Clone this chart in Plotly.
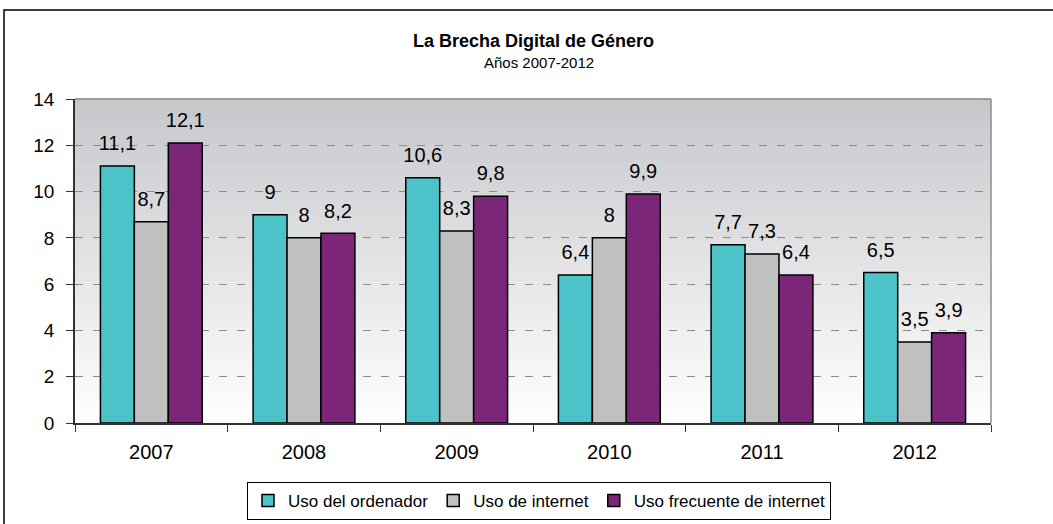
import plotly.graph_objects as go

years = ["2007", "2008", "2009", "2010", "2011", "2012"]
uso_ordenador = [11.1, 9, 10.6, 6.4, 7.7, 6.5]
uso_internet = [8.7, 8, 8.3, 8, 7.3, 3.5]
uso_frecuente = [12.1, 8.2, 9.8, 9.9, 6.4, 3.9]
series_names = ["Uso del ordenador", "Uso de internet", "Uso frecuente de internet"]
series_colors = ["#4BC3C8", "#C0C0C0", "#7B2679"]

FONT = "Liberation Sans, Arial, sans-serif"


def fmt(v):
    return f"{v:g}".replace(".", ",")


fig = go.Figure()
for name, vals, col in zip(series_names, [uso_ordenador, uso_internet, uso_frecuente], series_colors):
    fig.add_trace(go.Bar(
        x=years, y=vals, name=name,
        marker=dict(color=col, line=dict(color="#000000", width=1.5)),
        text=[fmt(v) for v in vals], textposition="outside",
        texttemplate="<span style='font-size:20px'>%{text}</span><br><span style='font-size:4px'>&nbsp;</span>",
        textfont=dict(size=9, color="#000000", family=FONT),
        constraintext="none", cliponaxis=False,
    ))

# gradient plot background made of thin strips
shapes = []
N = 80
top = (198, 199, 203)
for i in range(N):
    f = (i + 0.5) / N  # 0 at bottom, 1 at top
    c = tuple(int(round(255 + (t - 255) * f)) for t in top)
    shapes.append(dict(type="rect", xref="x domain", yref="y domain",
                       x0=0, x1=1, y0=i / N, y1=(i + 1) / N + 0.002,
                       fillcolor=f"rgb{c}", line=dict(width=0), layer="below"))
# top and right border of plot area
shapes.append(dict(type="line", xref="x domain", yref="y domain", x0=0, x1=1, y0=1, y1=1,
                   line=dict(color="#8c8c8c", width=1.5)))
shapes.append(dict(type="line", xref="x domain", yref="y domain", x0=1, x1=1, y0=0, y1=1,
                   line=dict(color="#8c8c8c", width=1.5)))
# outer chart border
shapes.append(dict(type="rect", xref="paper", yref="paper",
                   x0=(4 - 75) / 916, x1=1.2, y0=-0.5, y1=(423 - 10) / 324,
                   line=dict(color="#000000", width=1.5), fillcolor="rgba(0,0,0,0)"))

fig.update_layout(
    width=1053, height=524,
    margin=dict(l=75, r=62, t=99, b=101, autoexpand=False),
    paper_bgcolor="#ffffff", plot_bgcolor="#ffffff",
    font=dict(family=FONT, color="#000000"),
    barmode="group", bargap=0.333, bargroupgap=0,
    shapes=shapes,
    showlegend=True,
    legend=dict(orientation="h", x=(539 - 75) / 916, xanchor="center",
                y=(423 - 482) / 324, yanchor="top",
                bordercolor="#000000", borderwidth=1, bgcolor="#ffffff",
                font=dict(size=17, family=FONT), itemwidth=30, traceorder="normal"),
    annotations=[
        dict(text="<b>La Brecha Digital de Género</b>", xref="paper", yref="paper",
             x=(533 - 75) / 916, y=(423 - 41) / 324, showarrow=False,
             font=dict(size=18, family=FONT), xanchor="center", yanchor="middle"),
        dict(text="Años 2007-2012", xref="paper", yref="paper",
             x=(539 - 75) / 916, y=(423 - 63) / 324, showarrow=False,
             font=dict(size=15, family=FONT), xanchor="center", yanchor="middle"),
    ],
)
fig.update_yaxes(range=[0, 14], dtick=2, tick0=0, showgrid=True, gridcolor="#8c8c8c",
                 griddash="8px,10px", gridwidth=1, zeroline=False,
                 showline=True, linecolor="#333333", linewidth=1.5,
                 ticks="outside", ticklen=7, tickcolor="#333333", ticklabelstandoff=8,
                 tickfont=dict(size=19, family=FONT), fixedrange=True)
fig.update_xaxes(showline=True, linecolor="#333333", linewidth=1.5,
                 ticks="outside", tickson="boundaries", ticklen=7, tickcolor="#333333",
                 ticklabelstandoff=10,
                 tickfont=dict(size=20, family=FONT), showgrid=False)

fig.write_html("out.html", config={"displayModeBar": False},
               post_script="document.body.style.margin='0';document.body.style.padding='0';")
